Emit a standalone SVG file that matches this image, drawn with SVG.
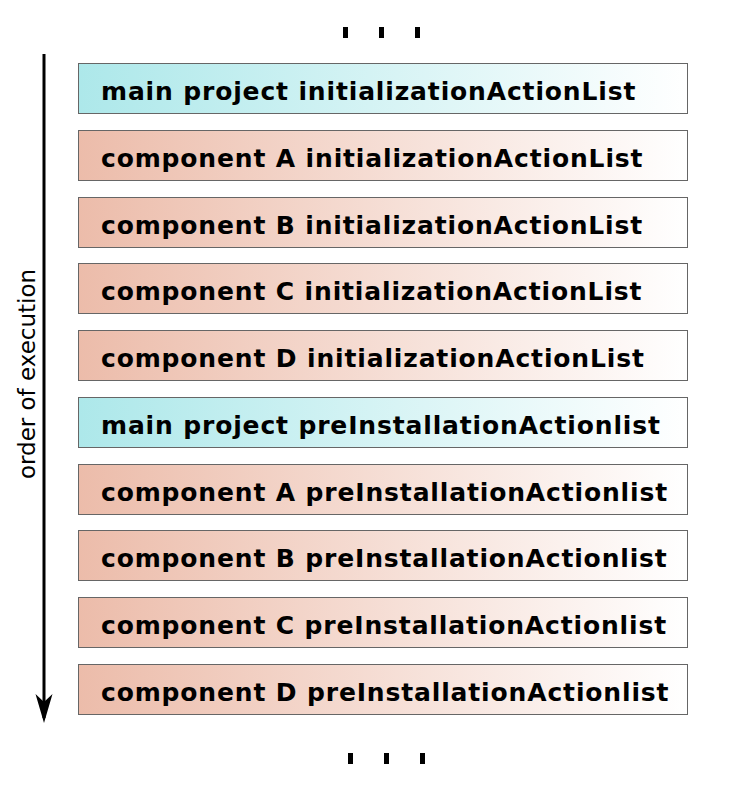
<svg xmlns="http://www.w3.org/2000/svg" width="732" height="789" viewBox="0 0 732 789">
<style>
.box{stroke:#666;stroke-width:1}
.main{fill:url(#gMain)}
.comp{fill:url(#gComp)}
.lbl{font-family:"DejaVu Sans",Verdana,sans-serif;font-weight:bold;font-size:25px;letter-spacing:0.85px;fill:#000}
.side{font-family:"DejaVu Sans",Verdana,sans-serif;font-size:23px;fill:#000}
.dot{fill:#000}
</style>
<defs>
<linearGradient id="gMain" x1="0" y1="0" x2="1" y2="0">
<stop offset="0" stop-color="#ade8ea"/>
<stop offset="1" stop-color="#ffffff"/>
</linearGradient>
<linearGradient id="gComp" x1="0" y1="0" x2="1" y2="0">
<stop offset="0" stop-color="#ecbcaa"/>
<stop offset="1" stop-color="#ffffff"/>
</linearGradient>
</defs>
<g id="dots-top">
<rect class="dot" x="343" y="27" width="5" height="11"/>
<rect class="dot" x="379" y="27" width="5" height="11"/>
<rect class="dot" x="415" y="27" width="5" height="11"/>
</g>
<g id="connectors">
<line x1="44" y1="54" x2="44" y2="718" stroke="#000" stroke-width="3"/>
<path d="M35.5,694 L44,723 L52.5,694 L44,702 Z" fill="#000"/>
</g>
<text class="side" transform="translate(35,374) rotate(-90)" text-anchor="middle">order of execution</text>
<g id="n1"><rect class="box main" x="78.5" y="63.5" width="609" height="50"/><text class="lbl" x="101" y="100">main project initializationActionList</text></g>
<g id="n2"><rect class="box comp" x="78.5" y="130.5" width="609" height="50"/><text class="lbl" x="101" y="167">component A initializationActionList</text></g>
<g id="n3"><rect class="box comp" x="78.5" y="197.5" width="609" height="50"/><text class="lbl" x="101" y="234">component B initializationActionList</text></g>
<g id="n4"><rect class="box comp" x="78.5" y="263.5" width="609" height="50"/><text class="lbl" x="101" y="300">component C initializationActionList</text></g>
<g id="n5"><rect class="box comp" x="78.5" y="330.5" width="609" height="50"/><text class="lbl" x="101" y="367">component D initializationActionList</text></g>
<g id="n6"><rect class="box main" x="78.5" y="397.5" width="609" height="50"/><text class="lbl" x="101" y="434">main project preInstallationActionlist</text></g>
<g id="n7"><rect class="box comp" x="78.5" y="464.5" width="609" height="50"/><text class="lbl" x="101" y="501">component A preInstallationActionlist</text></g>
<g id="n8"><rect class="box comp" x="78.5" y="530.5" width="609" height="50"/><text class="lbl" x="101" y="567">component B preInstallationActionlist</text></g>
<g id="n9"><rect class="box comp" x="78.5" y="597.5" width="609" height="50"/><text class="lbl" x="101" y="634">component C preInstallationActionlist</text></g>
<g id="n10"><rect class="box comp" x="78.5" y="664.5" width="609" height="50"/><text class="lbl" x="101" y="701">component D preInstallationActionlist</text></g>
<g id="dots-bottom">
<rect class="dot" x="348" y="753" width="5" height="11"/>
<rect class="dot" x="384" y="753" width="5" height="11"/>
<rect class="dot" x="420" y="753" width="5" height="11"/>
</g>
</svg>
